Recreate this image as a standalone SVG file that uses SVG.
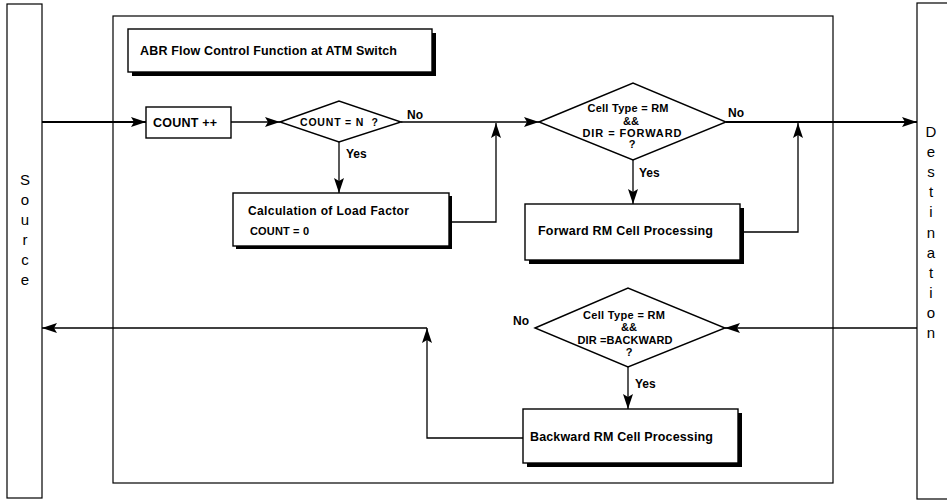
<svg xmlns="http://www.w3.org/2000/svg" width="947" height="501" viewBox="0 0 947 501">
<style>
  .box { fill: #fff; stroke: #000; stroke-width: 1.4; }
  .shadow { fill: #000; }
  .frame { fill: none; stroke: #000; stroke-width: 1.2; }
  .t { font-family: "Liberation Sans", Arial, sans-serif; font-weight: bold; fill: #000; }
  .v { font-family: "Liberation Sans", Arial, sans-serif; font-size: 15px; fill: #000; text-anchor: middle; }
  .ln { fill: none; stroke: #000; stroke-width: 1.3; }
  .thick { stroke-width: 2.2; }
</style>
<defs>
  <marker id="arr" markerUnits="userSpaceOnUse" markerWidth="16" markerHeight="12" refX="15" refY="6" orient="auto">
    <path d="M0,1 L15,6 L0,11 L3,6 Z" fill="#000"/>
  </marker>
</defs>
<rect width="947" height="501" fill="#fff"/>

<g id="source">
  <rect class="frame" x="7" y="4" width="35" height="494" stroke-width="1.5"/>
  <text class="v" x="25" y="185">S</text>
  <text class="v" x="25" y="205">o</text>
  <text class="v" x="25" y="225">u</text>
  <text class="v" x="25" y="245">r</text>
  <text class="v" x="25" y="265">c</text>
  <text class="v" x="25" y="285">e</text>
</g>

<g id="destination">
  <rect class="frame" x="917" y="3" width="40" height="496" stroke-width="1.5"/>
  <text class="v" x="931" y="137">D</text>
  <text class="v" x="931" y="157">e</text>
  <text class="v" x="931" y="177">s</text>
  <text class="v" x="931" y="197">t</text>
  <text class="v" x="931" y="217">i</text>
  <text class="v" x="931" y="238">n</text>
  <text class="v" x="931" y="258">a</text>
  <text class="v" x="931" y="278">t</text>
  <text class="v" x="931" y="298">i</text>
  <text class="v" x="931" y="318">o</text>
  <text class="v" x="931" y="338">n</text>
</g>

<g id="switch">
  <rect class="frame" x="113" y="16" width="720" height="467"/>
</g>

<g id="title">
  <rect class="shadow" x="132" y="33" width="304" height="43"/>
  <rect class="box" x="128" y="29" width="304" height="43"/>
  <text class="t" x="140" y="55" font-size="12.5" textLength="257">ABR Flow Control Function at ATM Switch</text>
</g>

<g id="count">
  <rect class="box" x="146" y="107" width="85" height="31"/>
  <text class="t" x="153" y="127" font-size="12.5" textLength="64">COUNT ++</text>
</g>

<g id="check-n">
  <polygon class="box" points="280,122 339,101 401,122 339,142"/>
  <text class="t" x="339" y="126" font-size="10.5" text-anchor="middle" textLength="78" xml:space="preserve">COUNT = N  ?</text>
</g>

<g id="calc">
  <rect class="shadow" x="236" y="196" width="216" height="53"/>
  <rect class="box" x="233" y="193" width="216" height="53"/>
  <text class="t" x="248" y="215" font-size="12" textLength="161">Calculation of Load Factor</text>
  <text class="t" x="250" y="235" font-size="11" textLength="59">COUNT = 0</text>
</g>

<g id="check-forward">
  <polygon class="box" points="539,122 633,83 726,122 633,160"/>
  <g class="t" font-size="11" text-anchor="middle">
    <text x="628" y="112" textLength="81">Cell Type = RM</text>
    <text x="631" y="125">&amp;&amp;</text>
    <text x="632" y="137" textLength="99">DIR = FORWARD</text>
    <text x="632" y="148">?</text>
  </g>
</g>

<g id="forward">
  <rect class="shadow" x="529" y="208" width="215" height="56"/>
  <rect class="box" x="525" y="204" width="215" height="56"/>
  <text class="t" x="538" y="235" font-size="12.5" textLength="175">Forward RM Cell Processing</text>
</g>

<g id="check-backward">
  <polygon class="box" points="535,328 628,288 725,328 628,367"/>
  <g class="t" font-size="11" text-anchor="middle">
    <text x="624" y="319" textLength="82">Cell Type = RM</text>
    <text x="629" y="331">&amp;&amp;</text>
    <text x="625" y="344" textLength="95">DIR =BACKWARD</text>
    <text x="629" y="356">?</text>
  </g>
</g>

<g id="backward">
  <rect class="shadow" x="527" y="413" width="215" height="54"/>
  <rect class="box" x="523" y="409" width="215" height="54"/>
  <text class="t" x="530" y="441" font-size="12.5" textLength="183">Backward RM Cell Processing</text>
</g>

<g id="labels" class="t" font-size="12">
  <text x="407" y="119">No</text>
  <text x="346" y="158">Yes</text>
  <text x="728" y="117">No</text>
  <text x="639" y="177">Yes</text>
  <text x="513" y="325">No</text>
  <text x="635" y="388">Yes</text>
</g>

<g id="connectors">
  <path class="ln thick" d="M42,122 H146" marker-end="url(#arr)"/>
  <path class="ln" d="M231,122 H280" marker-end="url(#arr)"/>
  <path class="ln" d="M401,122 H539" marker-end="url(#arr)"/>
  <path class="ln" d="M339,142 V193" marker-end="url(#arr)"/>
  <path class="ln" d="M452,222 H496 V123" marker-end="url(#arr)"/>
  <path class="ln thick" d="M726,122 H917" marker-end="url(#arr)"/>
  <path class="ln" d="M633,160 V204" marker-end="url(#arr)"/>
  <path class="ln" d="M744,232 H798 V123" marker-end="url(#arr)"/>
  <path class="ln" d="M917,328 H725" marker-end="url(#arr)"/>
  <path class="ln" d="M628,367 V409" marker-end="url(#arr)"/>
  <path class="ln" d="M523,438 H427 V328" marker-end="url(#arr)"/>
  <path class="ln" d="M427,328 H42" marker-end="url(#arr)"/>
</g>
</svg>
